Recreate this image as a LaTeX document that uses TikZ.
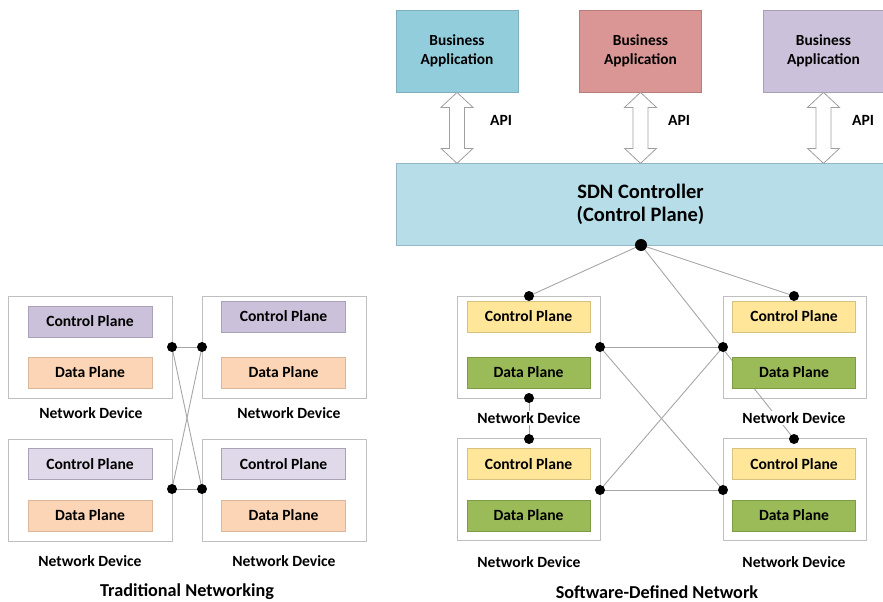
\documentclass[tikz,border=0pt]{standalone}
\usepackage{fontspec}
\setmainfont{Carlito}
\definecolor{devborder}{HTML}{BFBFBF}
\definecolor{linkgray}{HTML}{A6A6A6}
\definecolor{cpPurple}{HTML}{CCC1DA}
\definecolor{cpPurpleLight}{HTML}{DFD9E9}
\definecolor{cpPurpleBorder}{HTML}{A9A1B6}
\definecolor{dpPeach}{HTML}{FBD5B5}
\definecolor{dpPeachBorder}{HTML}{D9B79A}
\definecolor{cpYellow}{HTML}{FFE699}
\definecolor{cpYellowBorder}{HTML}{D6C27E}
\definecolor{dpGreen}{HTML}{9BBB59}
\definecolor{dpGreenBorder}{HTML}{7E9C46}
\definecolor{appBlue}{HTML}{92CDDC}
\definecolor{appBlueBorder}{HTML}{7FAFBF}
\definecolor{appRed}{HTML}{D99694}
\definecolor{appRedBorder}{HTML}{B87C7A}
\definecolor{appPurple}{HTML}{CCC1DA}
\definecolor{appPurpleBorder}{HTML}{A9A0B5}
\definecolor{ctrlBlue}{HTML}{B7DEE8}
\definecolor{ctrlBorder}{HTML}{93B8C4}
\definecolor{arrowgray}{HTML}{A0A0A0}
\begin{document}
\begin{tikzpicture}[x=1pt,y=-1pt,
  lbl/.style={font=\bfseries\fontsize{15.6}{18}\selectfont},
  device/.style={draw=devborder, fill=white, line width=1pt, minimum width=164, minimum height=102, inner sep=0},
  sdndevice/.style={device, minimum width=143},
  plane/.style={lbl, line width=0.8pt, minimum width=124, minimum height=31, inner sep=0},
  sdnplane/.style={plane, minimum width=123},
  cpA/.style={plane, draw=cpPurpleBorder, fill=cpPurple},
  cpB/.style={plane, draw=cpPurpleBorder, fill=cpPurpleLight},
  dpA/.style={plane, draw=dpPeachBorder, fill=dpPeach},
  cpS/.style={sdnplane, draw=cpYellowBorder, fill=cpYellow},
  dpS/.style={sdnplane, draw=dpGreenBorder, fill=dpGreen},
  devlabel/.style={lbl, fill=white, inner sep=1pt},
  title/.style={font=\bfseries\fontsize{18.2}{21}\selectfont},
  dot/.style={circle, fill=black, minimum size=10, inner sep=0},
  bigdot/.style={dot, minimum size=12},
  link/.style={draw=linkgray, line width=0.9pt},
  app/.style={lbl, align=center, line width=0.8pt, minimum width=122, minimum height=82, inner sep=0, font=\bfseries\fontsize{15.4}{19}\selectfont},
  apiarrow/.style={draw=arrowgray, fill=white, line width=0.8pt, line join=miter}
]
\useasboundingbox (0,0) rectangle (883,602);

% ---------------- Traditional networking ----------------
\node[device] (tTL) at (90,347) {};
\node[device] (tTR) at (284,347) {};
\node[device] (tBL) at (90,490) {};
\node[device] (tBR) at (284,490) {};

\node[cpA] (tTLc) at (90,321.5) {Control Plane};
\node[dpA] (tTLd) at (90,372.5) {Data Plane};
\node[cpA] (tTRc) at (283.5,316.5) {Control Plane};
\node[dpA] (tTRd) at (283.5,372.5) {Data Plane};
\node[cpB] (tBLc) at (90,464) {Control Plane};
\node[dpA] (tBLd) at (90,515.5) {Data Plane};
\node[cpB] (tBRc) at (283.5,464) {Control Plane};
\node[dpA] (tBRd) at (283.5,515.5) {Data Plane};

\node[lbl] (tTLl) at (91,413) {Network Device};
\node[lbl] (tTRl) at (289,413) {Network Device};
\node[lbl] (tBLl) at (90,561) {Network Device};
\node[lbl] (tBRl) at (284,561) {Network Device};

% ports between the traditional devices
\coordinate (p1) at (172,347);
\coordinate (p2) at (202,347);
\coordinate (p3) at (172,489);
\coordinate (p4) at (202,489);
\path[link] (p1) -- (p2);
\path[link] (p3) -- (p4);
\path[link] (p1) -- (p4);
\path[link] (p2) -- (p3);
\foreach \p in {p1,p2,p3,p4}{ \node[dot] at (\p) {}; }

\node[title] (tradTitle) at (187,592) {Traditional Networking};

% ---------------- Software-defined network ----------------
\node[app, draw=appBlueBorder, fill=appBlue] (app1) at (457,51) {Business\\Application};
\node[app, draw=appRedBorder, fill=appRed] (app2) at (640.5,51) {Business\\Application};
\node[app, draw=appPurpleBorder, fill=appPurple, minimum width=121] (app3) at (823.5,51) {Business\\Application};

\node[lbl, align=center, draw=ctrlBorder, fill=ctrlBlue, line width=0.8pt,
      minimum width=489, minimum height=82, inner sep=0,
      font=\bfseries\fontsize{20.5}{23}\selectfont] (ctrl) at (640.5,204)
      {SDN Controller\\(Control Plane)};

% API double arrows between each application and the controller
\foreach \a in {app1,app2,app3}{
  \draw[apiarrow] (\a.south) -- ++(16,15) -- ++(-8.5,0) -- ++(0,41) -- ++(8.5,0)
     -- ++(-16,15) -- ++(-16,-15) -- ++(8.5,0) -- ++(0,-41) -- ++(-8.5,0) -- cycle;
}
\node[lbl] (api1) at (501,120) {API};
\node[lbl] (api2) at (679,120) {API};
\node[lbl] (api3) at (863,120) {API};

% device frames
\node[sdndevice] (sTL) at (528.5,347) {};
\node[sdndevice] (sTR) at (794.5,347) {};
\node[sdndevice] (sBL) at (528.5,489.5) {};
\node[sdndevice] (sBR) at (794.5,489.5) {};

% connection points
\coordinate (c0) at (641,245);
\coordinate (a1) at (529,296);
\coordinate (a2) at (600,347);
\coordinate (a3) at (529,398);
\coordinate (b1) at (794,296);
\coordinate (b2) at (723,347);
\coordinate (c1) at (529,439);
\coordinate (c2) at (600,490);
\coordinate (d1) at (794,439);
\coordinate (d2) at (723,490);

% links (drawn under the planes)
\path[link] (c0) -- (a1);
\path[link] (c0) -- (b1);
\path[link] (c0) -- (d1);
\path[link] (a2) -- (b2);
\path[link] (a2) -- (d2);
\path[link] (c2) -- (b2);
\path[link] (c2) -- (d2);
\path[link] (a3) -- (c1);

\node[cpS] (sTLc) at (528.5,316.5) {Control Plane};
\node[dpS] (sTLd) at (528.5,372.5) {Data Plane};
\node[cpS] (sTRc) at (794,316.5) {Control Plane};
\node[dpS] (sTRd) at (794,372.5) {Data Plane};
\node[cpS] (sBLc) at (528.5,464) {Control Plane};
\node[dpS] (sBLd) at (528.5,515.5) {Data Plane};
\node[cpS] (sBRc) at (794,464) {Control Plane};
\node[dpS] (sBRd) at (794,515.5) {Data Plane};

\node[devlabel] (sTLl) at (529,418) {Network Device};
\node[devlabel] (sTRl) at (794,418) {Network Device};
\node[lbl] (sBLl) at (529,562) {Network Device};
\node[lbl] (sBRl) at (794,562) {Network Device};

\node[bigdot] at (c0) {};
\foreach \p in {a1,a2,a3,b1,b2,c1,c2,d1,d2}{ \node[dot] at (\p) {}; }

\node[title] (sdnTitle) at (657,592) {Software-Defined Network};
\end{tikzpicture}
\end{document}
